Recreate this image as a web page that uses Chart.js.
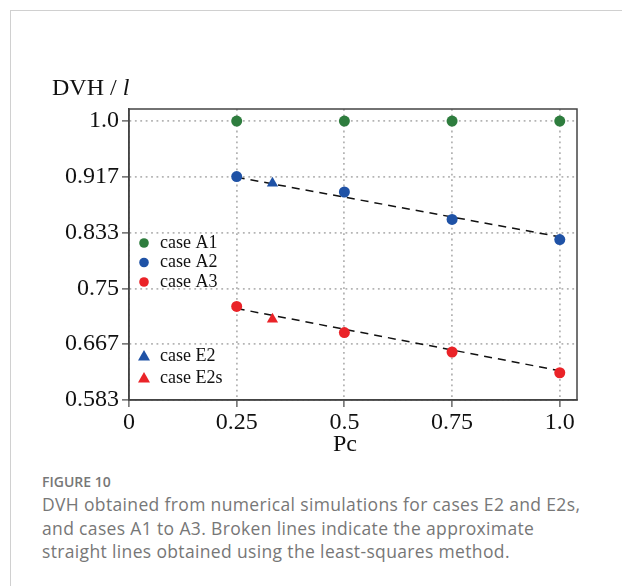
<!DOCTYPE html>
<html lang="en">
<head>
  <meta charset="UTF-8" />
  <title>Figure 10</title>
  <style>
    body {
      margin: 0;
      width: 622px;
      height: 586px;
      background: #fff;
      position: relative;
      overflow: hidden;
    }
    .card {
      position: absolute;
      left: 10px;
      top: 10px;
      width: 700px;
      height: 700px;
      border-top: 1px solid #d0d0d0;
      border-left: 1px solid #d0d0d0;
    }
    #chart {
      position: absolute;
      left: 0;
      top: 0;
    }
    .fig-label {
      position: absolute;
      left: 42px;
      top: 472px;
      font-family: 'Open Sans', sans-serif;
      font-weight: 600;
      font-size: 14px;
      color: #777;
    }
    .caption {
      position: absolute;
      left: 42px;
      top: 493px;
      font-family: 'Open Sans', sans-serif;
      font-size: 17.5px;
      letter-spacing: 0.35px;
      line-height: 23.5px;
      color: #777;
    }
  </style>
</head>
<body>
  <div class="card"></div>
  <canvas id="chart" width="622" height="460"></canvas>
  <div class="fig-label">FIGURE 10</div>
  <div class="caption">DVH obtained from numerical simulations for cases E2 and E2s,<br>and cases A1 to A3. Broken lines indicate the approximate<br>straight lines obtained using the least-squares method.</div>

  <script src="https://cdn.jsdelivr.net/npm/chart.js"></script>
  <script>
// data
const pcValues = [0.25, 0.5, 0.75, 1.0];
const caseA1 = [1.0, 1.0, 1.0, 1.0];
const caseA2 = [0.917, 0.894, 0.853, 0.823];
const caseA3 = [0.723, 0.684, 0.655, 0.624];
const pcE = [0.333];
const caseE2 = [0.907];
const caseE2s = [0.704];
const fitPc = [0.25, 1.0];
const fitA2 = [0.916, 0.827];
const fitA3 = [0.720, 0.627];

const xTickValues = [0, 0.25, 0.5, 0.75, 1.0];
const xTickLabels = ["0", "0.25", "0.5", "0.75", "1.0"];
const yTickValues = [0.5833, 0.6667, 0.75, 0.8333, 0.9167, 1.0];
const yTickLabels = ["0.583", "0.667", "0.75", "0.833", "0.917", "1.0"];

const GREEN = "#2e7d3e";
const BLUE = "#1f52a6";
const RED = "#ea2328";
const SERIF = "'Liberation Serif', 'Times New Roman', serif";

const toPts = (xs, ys) => ys.map((y, i) => ({ x: xs[i], y: y }));

function pointSet(label, xs, ys, color, style, legend) {
  return {
    label: label,
    data: toPts(xs, ys),
    showLine: false,
    pointStyle: style,
    pointRadius: style === "triangle" ? 6.5 : 5.5,
    backgroundColor: color,
    borderColor: color,
    borderWidth: 0,
    order: 1,
    legendRow: legend
  };
}

function fitSet(ys) {
  return {
    label: "",
    data: toPts(fitPc, ys),
    showLine: true,
    borderColor: "#111",
    borderWidth: 1.5,
    borderDash: [8, 6],
    pointRadius: 0,
    order: 2
  };
}

// legend drawn inside the plot box, two groups
const legendRows = [134, 153.5, 173, 247, 269];
const insideLegend = {
  id: "insideLegend",
  afterDraw(chart) {
    const { ctx, chartArea } = chart;
    ctx.save();
    ctx.font = "18px " + SERIF;
    ctx.textBaseline = "middle";
    chart.data.datasets.forEach(ds => {
      if (ds.legendRow === undefined) return;
      const y = chartArea.top + legendRows[ds.legendRow];
      const x = chartArea.left + 15;
      ctx.fillStyle = ds.backgroundColor;
      ctx.beginPath();
      if (ds.pointStyle === "triangle") {
        ctx.moveTo(x, y - 6);
        ctx.lineTo(x + 6, y + 4.5);
        ctx.lineTo(x - 6, y + 4.5);
        ctx.closePath();
      } else {
        ctx.arc(x, y, 4.8, 0, Math.PI * 2);
      }
      ctx.fill();
      ctx.fillStyle = "#111";
      ctx.fillText(ds.label, x + 16, y);
    });
    ctx.restore();
  }
};

// box around the plot + axis titles
const frameAndTitles = {
  id: "frameAndTitles",
  afterDraw(chart) {
    const { ctx, chartArea } = chart;
    ctx.save();
    ctx.strokeStyle = "#444";
    ctx.lineWidth = 1.5;
    ctx.strokeRect(chartArea.left, chartArea.top, chartArea.right - chartArea.left, chartArea.bottom - chartArea.top);

    ctx.fillStyle = "#111";
    ctx.font = "24px " + SERIF;
    ctx.textBaseline = "alphabetic";
    ctx.textAlign = "left";
    const t = "DVH / ";
    ctx.fillText(t, 52, 95);
    const w = ctx.measureText(t).width;
    ctx.font = "italic 24px " + SERIF;
    ctx.fillText("l", 52 + w, 95);

    ctx.font = "24px " + SERIF;
    ctx.textAlign = "center";
    ctx.textBaseline = "middle";
    ctx.fillText("Pc", (chartArea.left + chartArea.right) / 2 - 8, 445);
    ctx.restore();
  }
};

new Chart(document.getElementById("chart"), {
  type: "scatter",
  data: {
    datasets: [
      pointSet("case A1", pcValues, caseA1, GREEN, "circle", 0),
      pointSet("case A2", pcValues, caseA2, BLUE, "circle", 1),
      pointSet("case A3", pcValues, caseA3, RED, "circle", 2),
      pointSet("case E2", pcE, caseE2, BLUE, "triangle", 3),
      pointSet("case E2s", pcE, caseE2s, RED, "triangle", 4),
      fitSet(fitA2),
      fitSet(fitA3)
    ]
  },
  options: {
    responsive: false,
    animation: false,
    layout: { padding: { left: 0, top: 109, right: 45, bottom: 0 } },
    plugins: {
      legend: { display: false },
      tooltip: { enabled: false }
    },
    scales: {
      x: {
        type: "linear",
        min: 0,
        max: 1.04,
        afterBuildTicks: axis => { axis.ticks = xTickValues.map(v => ({ value: v })); },
        afterFit: axis => { axis.height = 60; },
        ticks: {
          autoSkip: false,
          maxRotation: 0,
          padding: 1,
          color: "#111",
          font: { family: SERIF, size: 24 },
          callback: (v, i) => xTickLabels[i]
        },
        grid: {
          color: "#b4b4b4",
          lineWidth: 1.8,
          tickLength: 7,
          tickColor: "#444",
          tickWidth: 1.2
        },
        border: { display: true, color: "#444", width: 1.5, dash: [1.8, 3.6] }
      },
      y: {
        type: "linear",
        min: 0.5833,
        max: 1.018,
        afterBuildTicks: axis => { axis.ticks = yTickValues.map(v => ({ value: v })); },
        afterFit: axis => { axis.width = 129; },
        ticks: {
          autoSkip: false,
          padding: 3,
          color: "#111",
          font: { family: SERIF, size: 24 },
          callback: (v, i) => yTickLabels[i]
        },
        grid: {
          color: "#b4b4b4",
          lineWidth: 1.8,
          tickLength: 7,
          tickColor: "#444",
          tickWidth: 1.2
        },
        border: { display: true, color: "#444", width: 1.5, dash: [1.8, 3.6] }
      }
    }
  },
  plugins: [frameAndTitles, insideLegend]
});
  </script>
</body>
</html>
